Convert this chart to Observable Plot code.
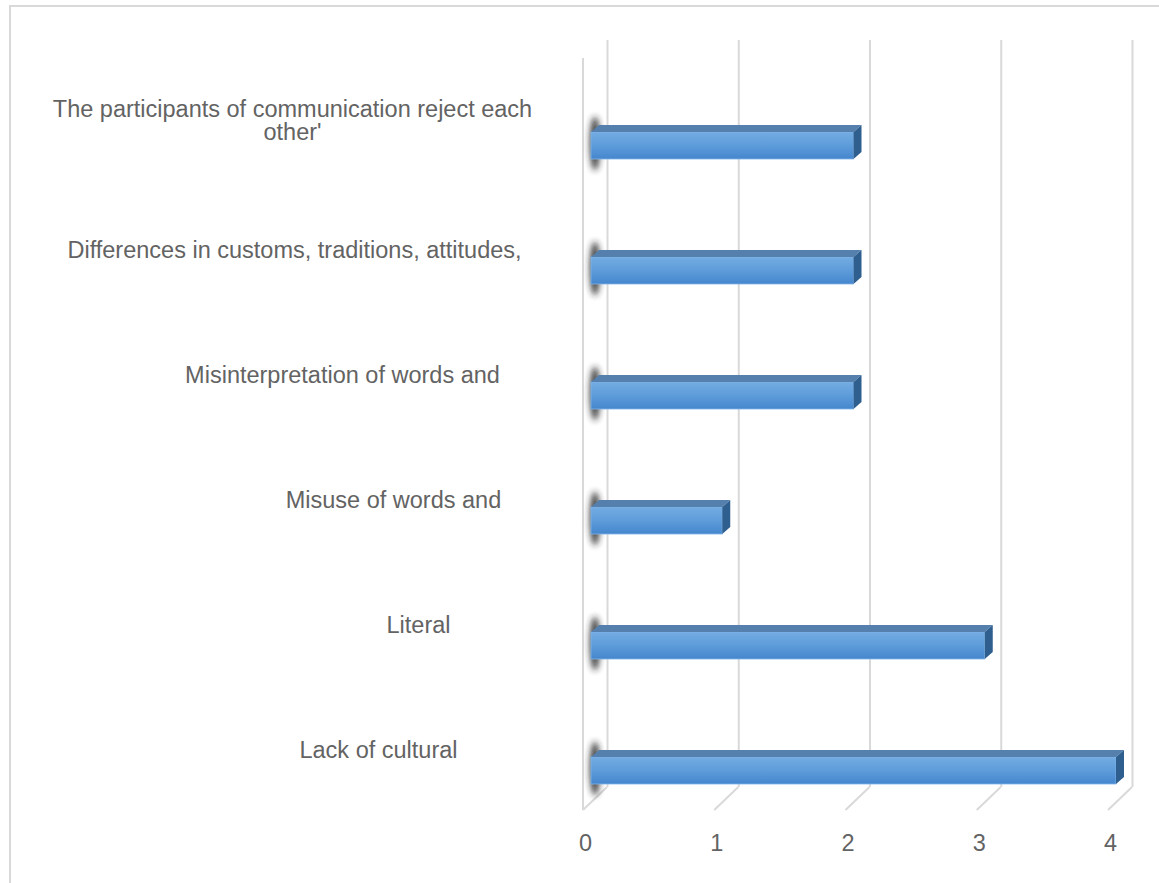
<!DOCTYPE html>
<html><head><meta charset="utf-8">
<script src="https://cdn.jsdelivr.net/npm/d3@7"></script>
<script src="https://cdn.jsdelivr.net/npm/@observablehq/plot@0.6"></script>
<style>
html,body{margin:0;padding:0;background:#fff;overflow:hidden}
#wrap{position:relative;width:1159px;height:883px}
#border{position:absolute;left:9px;top:5px;width:1170px;height:900px;border:2px solid #d9d9d9;box-sizing:border-box}
#chart{position:absolute;left:0;top:0}
</style></head><body>
<div id="wrap"><div id="border"></div><div id="chart"></div></div>
<script>
// ---- data ----
const categories = [
  "The participants of communication reject each other'",
  "Differences in customs, traditions, attitudes,",
  "Misinterpretation of words and",
  "Misuse of words and",
  "Literal",
  "Lack of cultural"
];
const categoryLabels = [
  "The participants of communication reject each\nother'",
  "Differences in customs, traditions, attitudes,",
  "Misinterpretation of words and",
  "Misuse of words and",
  "Literal",
  "Lack of cultural"
];
const values = [2, 2, 2, 1, 3, 4];
const xTicks = [0, 1, 2, 3, 4];

// ---- layout / style (not data) ----
const labelDx = [-291, -289, -241, -190, -165, -205];
const labelDy = [-25, -21, -21, -21, -21, -21];
const FONT = "'Liberation Sans', Arial, sans-serif";
const TEXT = "#636363";
const GRID = "#d9d9d9";
const BAR_DX = 8;

const data = categories.map((c, i) => ({category: c, value: values[i], label: categoryLabels[i]}));

function defsMark() {
  const g = d3.create("svg:g");
  const d = g.append("defs");
  const lg = d.append("linearGradient").attr("id", "barFront").attr("x1", 0).attr("y1", 0).attr("x2", 0).attr("y2", 1);
  lg.append("stop").attr("offset", "0%").attr("stop-color", "#74ace2");
  lg.append("stop").attr("offset", "55%").attr("stop-color", "#5b9ad9");
  lg.append("stop").attr("offset", "100%").attr("stop-color", "#4586cd");
  const f = d.append("filter").attr("id", "blurShadow").attr("x", "-300%").attr("y", "-50%").attr("width", "700%").attr("height", "200%");
  f.append("feGaussianBlur").attr("stdDeviation", 3.2);
  return g.node();
}

function floorMark(index, scales, vals, dims) {
  const g = d3.create("svg:g").attr("stroke", GRID).attr("stroke-width", 2).attr("fill", "none");
  const yb = dims.height - dims.marginBottom;
  for (const t of xTicks) {
    const x = scales.x(t);
    g.append("line").attr("x1", x).attr("y1", yb + 23).attr("x2", x + 24).attr("y2", yb);
  }
  const x0 = scales.x(0);
  g.append("line").attr("x1", x0).attr("y1", dims.marginTop + 18).attr("x2", x0).attr("y2", yb + 23);
  return g.node();
}

function bandCenter(scales, c) {
  const step = scales.y(categories[1]) - scales.y(categories[0]);
  return scales.y(c) + step / 2;
}

function shadowMark(index, scales) {
  const g = d3.create("svg:g");
  for (const d of data) {
    const cy = bandCenter(scales, d.category);
    g.append("ellipse").attr("cx", scales.x(0) + 12).attr("cy", cy - 2)
      .attr("rx", 5).attr("ry", 27).attr("fill", "#222").attr("opacity", 0.9)
      .attr("filter", "url(#blurShadow)");
  }
  return g.node();
}

function facesMark(index, scales) {
  const g = d3.create("svg:g");
  const h = 27, dep = 8, dv = 7;
  for (const d of data) {
    const cy = bandCenter(scales, d.category);
    const x0 = scales.x(0) + BAR_DX, x1 = scales.x(d.value) + BAR_DX;
    const yt = cy - h / 2, yb = cy + h / 2;
    g.append("polygon")
      .attr("points", [[x0, yt], [x1, yt], [x1 + dep, yt - dv], [x0 + dep, yt - dv]].map(p => p.join(",")).join(" "))
      .attr("fill", "#5580ae");
    g.append("polygon")
      .attr("points", [[x1, yt], [x1 + dep, yt - dv], [x1 + dep, yb - dv], [x1, yb]].map(p => p.join(",")).join(" "))
      .attr("fill", "#2f5f8f");
  }
  return g.node();
}

const plot = Plot.plot({
  width: 1159,
  height: 883,
  marginTop: 40,
  marginBottom: 96,
  marginLeft: 0,
  marginRight: 0,
  style: {fontFamily: FONT, color: TEXT, background: "transparent", overflow: "visible"},
  x: {domain: [0, 4], range: [583, 1108]},
  y: {type: "band", domain: categories, range: [83, 833], padding: 0, axis: null},
  marks: [
    defsMark,
    Plot.ruleX(xTicks, {x: d => d, dx: 24, stroke: GRID, strokeWidth: 2}),
    floorMark,
    shadowMark,
    Plot.barX(data, {x: "value", y: "category", fill: "url(#barFront)", insetTop: 49, insetBottom: 49, dx: BAR_DX, stroke: "#7fb5e8", strokeWidth: 0.8}),
    facesMark,
    ...data.map((d, i) => Plot.text([d], {
      x: () => 0, y: "category", text: "label", dx: labelDx[i], dy: labelDy[i],
      textAnchor: "middle", lineAnchor: "middle", lineHeight: 1.0,
      fontSize: 23.5, fill: TEXT
    })),
    Plot.axisX(xTicks, {anchor: "bottom", tickSize: 0, tickPadding: 47, dx: 2, fontSize: 23.5, fill: TEXT, label: null, tickFormat: d => String(d)})
  ]
});
document.getElementById("chart").appendChild(plot);
</script>
</body></html>
